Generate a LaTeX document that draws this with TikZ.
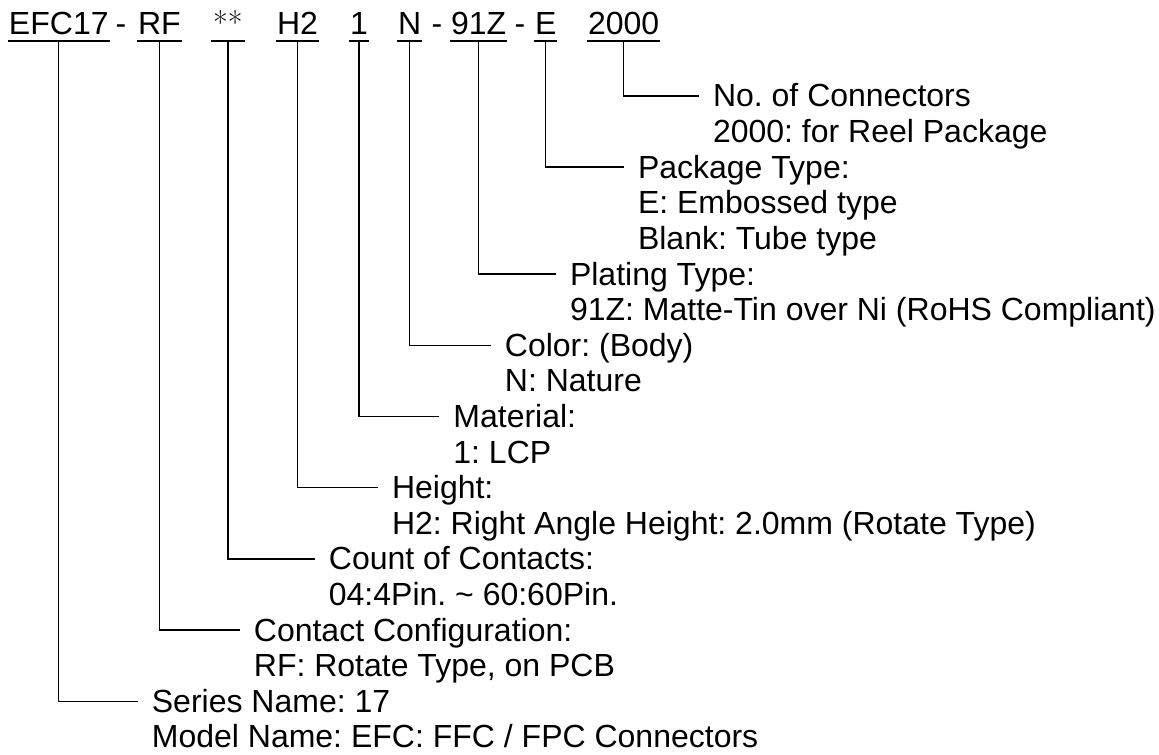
\documentclass[tikz,border=0pt]{standalone}
\usepackage{fontspec}
\setmainfont{Liberation Sans}
\usepackage{tikz}
\usetikzlibrary{positioning}
\frenchspacing

\begin{document}
\begin{tikzpicture}[x=0.5pt,y=-0.5pt,
    font=\fontsize{16pt}{18pt}\selectfont,
    part/.style={anchor=base west, inner xsep=0.3pt, inner ysep=0pt, text height=11pt, text depth=2.85pt},
    hyph/.style={anchor=base, inner sep=0pt},
    uline/.style={line width=1.25pt},
    wire/.style={line width=0.7pt},
    title/.style={anchor=base west, inner sep=0pt, text height=11pt, text depth=0pt},
    info/.style={anchor=base west, inner sep=0pt}]
\useasboundingbox (0,0) rectangle (1159,754);

% part number
\node[part] (efc) at (8,35) {EFC17};
\node[hyph] (h1) at (121,35) {-};
\node[part] (rf) at (137,35) {RF};
\node[part, minimum width=16.5pt] (pin) at (211,35) {\fontfamily{lmr}\selectfont **};
\node[part] (ht) at (276,35) {H2};
\node[part] (mat) at (349,35) {1};
\node[part] (col) at (397,35) {N};
\node[hyph] (h2) at (437,35) {-};
\node[part] (plt) at (450,35) {91Z};
\node[hyph] (h3) at (520,35) {-};
\node[part] (pkg) at (534,35) {E};
\node[part] (qty) at (587,35) {2000};

\foreach \p in {efc,rf,pin,ht,mat,col,plt,pkg,qty}
  \draw[uline] (\p.south west) -- (\p.south east);

% 2000
\node[title] (qtyA) at (712.6,107) {No. of Connectors};
\node[info] (qtyB) at (712.6,142.6) {2000: for Reel Package};
% E
\node[title] (pkgA) at (637.6,178.2) {Package Type:};
\node[info] (pkgB) at (637.6,213.8) {E: Embossed type};
\node[info] (pkgC) at (637.6,249.4) {Blank: Tube type};
% 91Z
\node[title] (pltA) at (569.6,285) {Plating Type:};
\node[info] (pltB) at (569.6,320.6) {91Z: Matte-Tin over Ni (RoHS Compliant)};
% N
\node[title] (colA) at (504.5,356.2) {Color: (Body)};
\node[info] (colB) at (504.5,391.8) {N: Nature};
% 1
\node[title] (matA) at (453,427.4) {Material:};
\node[info] (matB) at (453,463) {1: LCP};
% H2
\node[title] (htA) at (391.6,498.6) {Height:};
\node[info] (htB) at (391.6,534.2) {H2: Right Angle Height: 2.0mm (Rotate Type)};
% **
\node[title] (pinA) at (328.5,569.8) {Count of Contacts:};
\node[info] (pinB) at (328.5,605.4) {04:4Pin. \textasciitilde{} 60:60Pin.};
% RF
\node[title] (rfA) at (253.5,641) {Contact Configuration:};
\node[info] (rfB) at (253.5,676.6) {RF: Rotate Type, on PCB};
% EFC17
\node[title] (efcA) at (151.5,712.2) {Series Name: 17};
\node[info] (efcB) at (151.5,747.8) {Model Name: EFC: FFC / FPC Connectors};

% leaders
\foreach \p in {qty,pkg,plt,col,mat,ht,pin,rf,efc}
  \draw[wire] (\p.south) |- ([xshift=-7pt]\p A.west);
\end{tikzpicture}
\end{document}
